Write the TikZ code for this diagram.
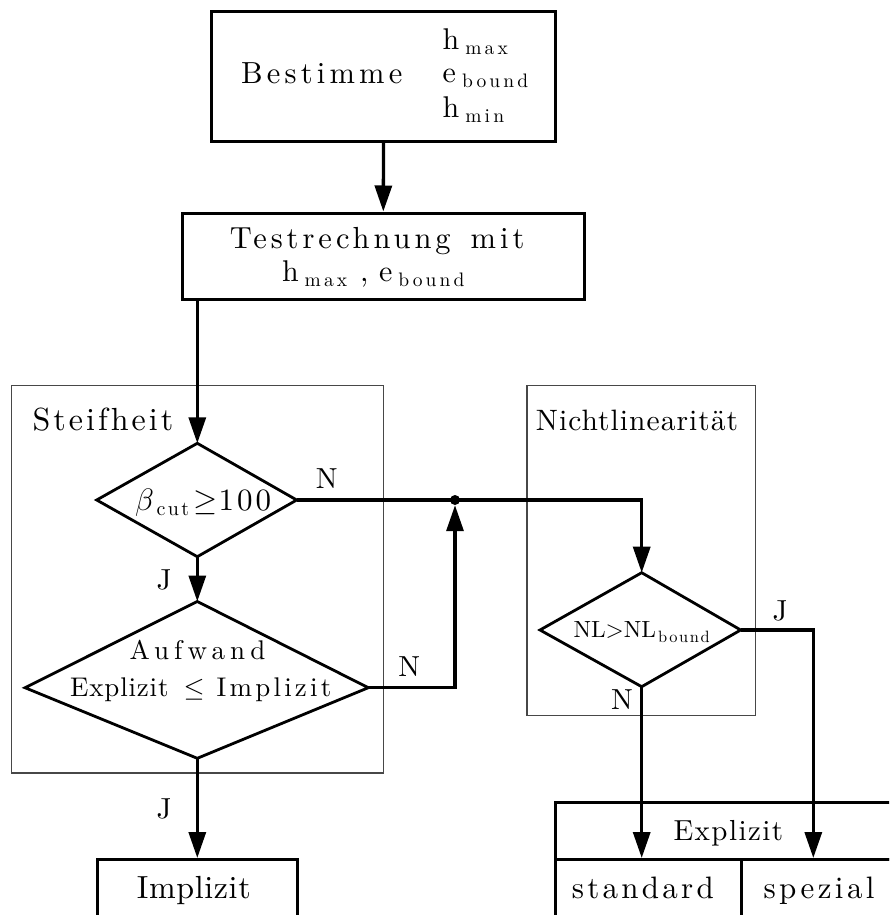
\RequirePackage{fix-cm}
\documentclass[tikz,border=0pt]{standalone}
\usepackage[no-math]{fontspec}
\IfFontExistsTF{lmroman10-regular.otf}
  {\setmainfont{lmroman10-regular.otf}}
  {\setmainfont{Latin Modern Roman}}
\usetikzlibrary{arrows.meta}

% lowered index set in small, letter-spaced roman type
\newcommand\sbx[1]{\kern6pt\raisebox{-5.5pt}{\fontsize{19.5}{22}\selectfont\addfontfeature{LetterSpace=16}#1}}
% letter-spaced text run
\newcommand\spc[2]{{\addfontfeature{LetterSpace=#1}#2}}

\tikzset{
  txt/.style n args={2}{inner sep=0pt, anchor=base west,
    font={\fontsize{#1}{#1}\selectfont\addfontfeature{LetterSpace=#2}}},
  lbl/.style={inner sep=0pt, anchor=base, font=\fontsize{29}{34}\selectfont},
  box/.style={draw, line width=3pt, inner sep=0pt},
  frm/.style={draw=black!72, line width=1.4pt, inner sep=0pt},
  wire/.style={line width=3.3pt},
  arr/.style={wire, -{Triangle[length=26pt,width=17pt]}},
  shp/.style={line width=2.8pt, line join=miter},
}

\begin{document}
\begin{tikzpicture}[x=1pt,y=-1pt]
\useasboundingbox (0,0) rectangle (889,915);
\clip (0,0) rectangle (889,915);

% group frames
\node[frm, minimum width=372.2pt, minimum height=387.3pt] (frS) at (197.4,579.35) {};
\node[frm, minimum width=228.7pt, minimum height=329.7pt] (frN) at (641.35,550.55) {};
\node[txt={32}{9.5}] (tSteif) at (32.3,430.6) {Steifheit};
\node[txt={29.5}{3.5}] (tNicht) at (535.7,430.6) {Nichtlinearität};

% boxes
\node[box, minimum width=344pt, minimum height=129.5pt] (b1) at (383.5,76.45) {};
\node[box, minimum width=401.4pt, minimum height=86pt] (b2) at (383.3,256) {};
\node[box, minimum width=200.2pt, minimum height=100.5pt] (impl) at (197.6,909.75) {};
\node[box, minimum width=445pt, minimum height=57pt] (expl) at (777.5,831) {};
\node[box, minimum width=186.7pt, minimum height=100.5pt] (cstd) at (648.35,909.75) {};
\node[box, minimum width=258.3pt, minimum height=100.5pt] (cspz) at (870.85,909.75) {};

% box texts
\node[txt={30.5}{13.7}] (tBest) at (241,83.4) {Bestimme};
\node[txt={30}{14}] (tHmax) at (442.5,49.5) {h\sbx{max}};
\node[txt={30}{14}] (tEb) at (442.5,82.5) {e\sbx{bound}};
\node[txt={30}{14}] (tHmin) at (442.5,117.5) {h\sbx{min}};
\node[txt={30.5}{13}] (tTest) at (229.6,248.5) {Testrechnung\hspace{20pt}mit};
\node[txt={30}{14}] (tHe) at (281.8,281) {h\sbx{max}\kern13pt,\kern10.5pt e\sbx{bound}};
\node[txt={32}{2}] (tImpl) at (136.7,898.3) {Implizit};
\node[txt={29}{5}] (tExpl) at (673.3,840.7) {Explizit};
\node[txt={31}{10.5}] (tStd) at (571.7,898.3) {standard};
\node[txt={31}{11}] (tSpz) at (763.3,898.3) {spezial};

% decision shapes
\coordinate (d1n) at (197.3,443.3);
\coordinate (d1e) at (296.7,500);
\coordinate (d1s) at (197.3,556.7);
\coordinate (d1w) at (96.7,500);
\coordinate (d2n) at (197.3,601.5);
\coordinate (d2e) at (368.3,687.7);
\coordinate (d2s) at (197.3,758.3);
\coordinate (d2w) at (25,687.7);
\coordinate (d3n) at (641.7,572.7);
\coordinate (d3e) at (740.7,630);
\coordinate (d3s) at (641.7,686.7);
\coordinate (d3w) at (540,630);
\draw[shp] (d1n) -- (d1e) -- (d1s) -- (d1w) -- cycle;
\draw[shp] (d2n) -- (d2e) -- (d2s) -- (d2w) -- cycle;
\draw[shp] (d3n) -- (d3e) -- (d3s) -- (d3w) -- cycle;

\node[txt={31}{10}] (tBeta) at (135,510)
  {$\beta$\kern2.5pt\raisebox{-5pt}{\fontsize{20}{24}\selectfont\addfontfeature{LetterSpace=12}cut}\kern4.3pt$\geq$\kern1pt 100};
\node[txt={27}{19}] (tAuf) at (129.3,659.3) {Aufwand};
\node[txt={27}{3}] (tExIm) at (70,696)
  {Explizit\hspace{15pt}$\leq$\hspace{12pt}\spc{12}{Implizit}};
\node[inner sep=0pt, anchor=base west, font=\fontsize{23.4}{28}\selectfont] (tNL) at (573.3,637.7)
  {NL>NL\kern2pt\raisebox{-5pt}{\fontsize{16.4}{20}\selectfont\addfontfeature{LetterSpace=10}bound}};

% junction
\node[circle, fill, inner sep=0pt, minimum size=10pt] (dot) at (455,500) {};
\coordinate (jturn) at (813.3,630);

% connectors
\draw[arr] (b1.south) -- (b2.north);
\draw[arr] (b2.south -| d1n) -- (d1n);
\draw[arr] (d1s) -- (d2n);
\draw[wire] (d1e) -- (dot.center);
\draw[arr] (dot.center) -| (d3n);
\draw[arr] (d2e) -| (dot.south);
\draw[arr] (d2s) -- (d2s |- impl.north);
\draw[arr] (d3s) -- (d3s |- cstd.north);
\draw[arr] (d3e) -- (jturn) -- (jturn |- cspz.north);

% branch labels
\node[lbl] (lN1) at (326.7,488) {N};
\node[lbl] (lJ1) at (164,589) {J};
\node[lbl] (lN2) at (409.3,676.7) {N};
\node[lbl] (lJ2) at (164,818) {J};
\node[lbl] (lJ3) at (780,620.5) {J};
\node[lbl] (lN3) at (622,709) {N};
\end{tikzpicture}
\end{document}
